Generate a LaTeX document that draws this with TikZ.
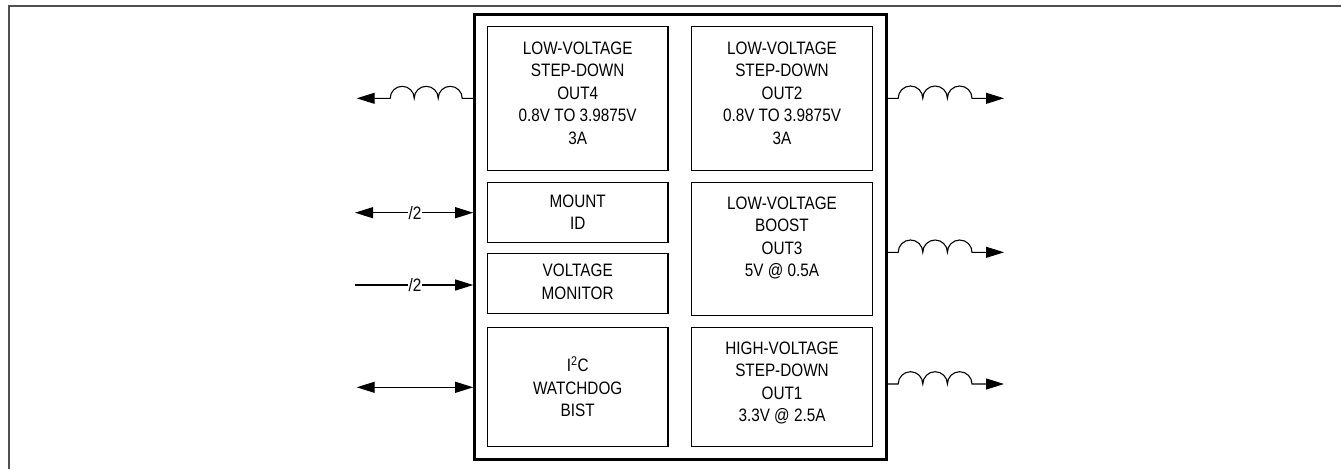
\documentclass[tikz,border=0pt]{standalone}
\usepackage{fontspec}
\setmainfont[FakeStretch=0.85]{Liberation Sans}
\usetikzlibrary{arrows.meta}
\begin{document}
\begin{tikzpicture}[x=1pt,y=-1pt,line width=1.1pt,
    >={Triangle[length=18pt,width=11pt]},
    chip/.style={draw,line width=3pt,minimum width=412pt,minimum height=445pt,inner sep=0pt},
    blk/.style={draw,line width=1.3pt,minimum width=180.6pt,inner sep=0pt},
    txt/.style={align=center,inner sep=0pt,font=\fontsize{18}{22.5}\selectfont},
    bus/.style={fill=white,inner sep=1pt,font=\fontsize{18}{22.5}\selectfont},
    frame/.style={line width=2pt,draw={rgb,255:red,80;green,80;blue,80}}]
            \useasboundingbox (0,0) rectangle (1341,469);
            \draw[frame] (9,469) -- (9,6.3) -- (1341,6.3);
            % device and its blocks
            \node[chip] (ic) at (680.7,236.5) {};
            \node[blk,minimum height=144pt] (o4) at (577.7,98.7) {};
            \node[blk,minimum height=144pt] (o2) at (782,98.7) {};
            \node[blk,minimum height=60pt] (id) at (577.7,212.7) {};
            \node[blk,minimum height=60pt] (mon) at (577.7,283.3) {};
            \node[blk,minimum height=132.6pt] (o3) at (782,249) {};
            \node[blk,minimum height=119.4pt] (i2c) at (577.7,387) {};
            \node[blk,minimum height=119.4pt] (o1) at (782,387) {};
            \node[txt] (o4t) at (577.7,93.3) {LOW-VOLTAGE\\STEP-DOWN\\OUT4\\0.8V TO 3.9875V\\3A};
            \node[txt] (o2t) at (782,93.3) {LOW-VOLTAGE\\STEP-DOWN\\OUT2\\0.8V TO 3.9875V\\3A};
            \node[txt] (idt) at (577.7,212.3) {MOUNT\\ID};
            \node[txt] (mont) at (577.7,282) {VOLTAGE\\MONITOR};
            \node[txt] (o3t) at (782,237.8) {LOW-VOLTAGE\\BOOST\\OUT3\\5V @ 0.5A};
            \node[txt] (i2ct) at (577.7,387) {I\textsuperscript{2}C\\WATCHDOG\\BIST};
            \node[txt] (o1t) at (782,383) {HIGH-VOLTAGE\\STEP-DOWN\\OUT1\\3.3V @ 2.5A};
            % free ends
            \coordinate (l4) at (356.7,98.3);
            \coordinate (lid) at (355,212.7);
            \coordinate (lmon) at (355,285);
            \coordinate (li2c) at (356.7,387.3);
            \coordinate (r2) at (1004,98.3);
            \coordinate (r3) at (1004,252.3);
            \coordinate (r1) at (1004,384);
            % inductors
            \draw[->] (ic.west |- l4) -- ++(-11,0)
                arc[start angle=0,end angle=-180,radius=12]
                arc[start angle=0,end angle=-180,radius=12]
                arc[start angle=0,end angle=-180,radius=12] -- (l4);
            \foreach \r in {r2,r3,r1}
                \draw[->] (ic.east |- \r) -- ++(10,0)
                    arc[start angle=180,end angle=360,radius=12.3]
                    arc[start angle=180,end angle=360,radius=12.3]
                    arc[start angle=180,end angle=360,radius=12.3] -- (\r);
            % buses
            \draw[<->] (lid) -- (ic.west |- lid);
            \draw[->] (lmon) -- (ic.west |- lmon);
            \draw[<->] (li2c) -- (ic.west |- li2c);
            \node[bus] (bid) at (415,212.7) {/2};
            \node[bus] (bmon) at (415,285) {/2};
\end{tikzpicture}
\end{document}
